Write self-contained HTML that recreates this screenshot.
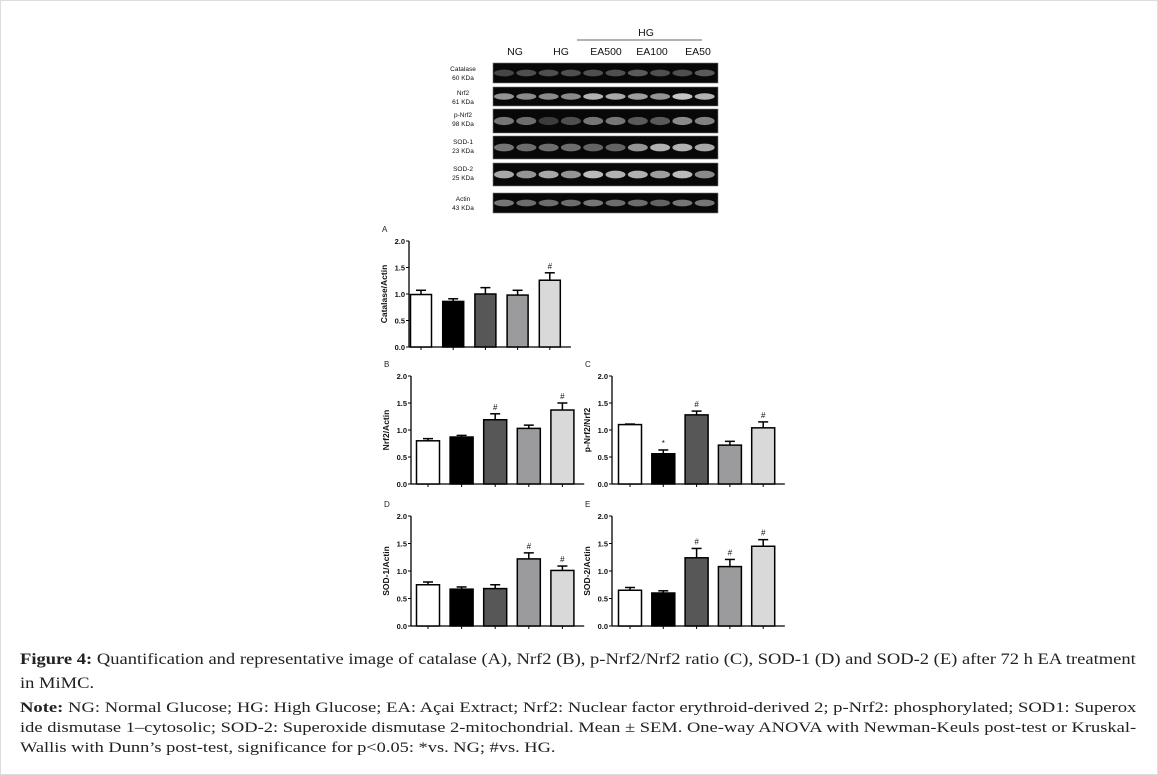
<!DOCTYPE html>
<html><head><meta charset="utf-8">
<style>
body{margin:0;background:#fff;}
#wrap{position:relative;width:1158px;height:775px;overflow:hidden;background:#fff;}
.cap{position:absolute;left:20px;font-family:"Liberation Serif",serif;font-size:15.5px;color:#222;white-space:nowrap;transform-origin:0 0;}
</style></head>
<body>
<div id="wrap">
<svg id="svg" width="1158" height="775" style="position:absolute;left:0;top:0">
<rect x="0.5" y="0.5" width="1157" height="774" fill="none" stroke="#ddd"/>
</svg>
<div class="cap" style="top:651px;transform:scaleX(1.195)"><b>Figure 4:</b> Quantification and representative image of catalase (A), Nrf2 (B), p-Nrf2/Nrf2 ratio (C), SOD-1 (D) and SOD-2 (E) after 72 h EA treatment</div>
<div class="cap" style="top:675px;transform:scaleX(1.195)">in MiMC.</div>
<div class="cap" style="top:700px;font-size:14.6px;transform:scaleX(1.274)"><b>Note:</b> NG: Normal Glucose; HG: High Glucose; EA: Açai Extract; Nrf2: Nuclear factor erythroid-derived 2; p-Nrf2: phosphorylated; SOD1: Superox</div>
<div class="cap" style="top:720px;font-size:14.6px;transform:scaleX(1.266)">ide dismutase 1–cytosolic; SOD-2: Superoxide dismutase 2-mitochondrial. Mean ± SEM. One-way ANOVA with Newman-Keuls post-test or Kruskal-</div>
<div class="cap" style="top:740px;font-size:14.6px;transform:scaleX(1.26)">Wallis with Dunn’s post-test, significance for p&lt;0.05: *vs. NG; #vs. HG.</div>
</div>
<script>
const categories=['NG','HG','EA500','EA100','EA50'];
const catalaseVals=[0.99,0.86,1.0,0.98,1.26];
const catalaseErr=[0.08,0.05,0.12,0.09,0.14];
const catalaseSig=['','','','','#'];
const nrf2Vals=[0.80,0.87,1.19,1.03,1.37];
const nrf2Err=[0.04,0.03,0.11,0.06,0.13];
const nrf2Sig=['','','#','','#'];
const pnrf2Vals=[1.10,0.56,1.28,0.72,1.04];
const pnrf2Err=[0.01,0.07,0.07,0.07,0.11];
const pnrf2Sig=['','*','#','','#'];
const sod1Vals=[0.75,0.67,0.68,1.22,1.01];
const sod1Err=[0.05,0.04,0.07,0.11,0.08];
const sod1Sig=['','','','#','#'];
const sod2Vals=[0.65,0.60,1.24,1.08,1.45];
const sod2Err=[0.05,0.04,0.17,0.13,0.12];
const sod2Sig=['','','#','#','#'];
const yTicks=[0,0.5,1.0,1.5,2.0];
const fills=['#ffffff','#000000','#575757','#9b9b9d','#d9d9d9'];
const blotRows=['Catalase|60 KDa','Nrf2|61 KDa','p-Nrf2|98 KDa','SOD-1|23 KDa','SOD-2|25 KDa','Actin|43 KDa'];

const NS='http://www.w3.org/2000/svg';
const svg=document.getElementById('svg');
function mk(tag,attrs,parent){const e=document.createElementNS(NS,tag);for(const k in attrs)e.setAttribute(k,attrs[k]);(parent||svg).appendChild(e);return e;}

const blot=mk('g',{});


const lanes=[['NG',515],['HG',561],['EA500',606],['EA100',652],['EA50',698]];
lanes.forEach(l=>{const t=mk('text',{x:l[1],y:55,'text-anchor':'middle','font-family':'Liberation Sans, sans-serif','font-size':'10.5',fill:'#111'},blot);t.textContent=l[0];

});
const hg=mk('text',{x:646,y:36,'text-anchor':'middle','font-family':'Liberation Sans, sans-serif','font-size':'10.5',fill:'#111'},blot);hg.textContent='HG';


mk('line',{x1:577,y1:40,x2:702,y2:40,stroke:'#333','stroke-width':'0.8'},blot);
const rowY=[[63,83],[87,106],[109,133],[136,159],[163,186],[193,213]];
const bandInt=[[0.35,0.4,0.4,0.4,0.4,0.4,0.45,0.4,0.4,0.45],[0.75,0.7,0.7,0.7,0.9,0.85,0.8,0.75,1,0.9],[0.6,0.55,0.3,0.4,0.6,0.6,0.45,0.45,0.7,0.65],[0.6,0.55,0.55,0.55,0.5,0.5,0.75,0.9,0.9,0.85],[0.85,0.75,0.85,0.75,0.95,0.9,0.9,0.8,0.95,0.7],[0.6,0.55,0.55,0.55,0.6,0.55,0.55,0.5,0.6,0.6]];
rowY.forEach((r,i)=>{
 mk('rect',{x:493,y:r[0],width:225,height:r[1]-r[0],fill:'#080808',stroke:'#777','stroke-width':'0.6'},blot);
 for(let j=0;j<10;j++){const cx=504+j*22.3;const v=Math.round(bandInt[i][j]*230);
  mk('ellipse',{cx:cx,cy:(r[0]+r[1])/2,rx:10,ry:(r[1]-r[0])*0.17,fill:`rgb(${v},${v},${v})`,opacity:0.85},blot);}
 const lab=blotRows[i].split('|');
 const t1=mk('text',{x:463,y:r[0]+8,'text-anchor':'middle','font-family':'Liberation Sans, sans-serif','font-size':'6.5',fill:'#111'},blot);t1.textContent=lab[0];
 
 
 const t2=mk('text',{x:463,y:r[0]+17,'text-anchor':'middle','font-family':'Liberation Sans, sans-serif','font-size':'6.5',fill:'#111'},blot);t2.textContent=lab[1];
 
 
});

function panel(name,letter,ylabel,vals,errs,sigs,ax,y0,y2,firstTick,step,bw){
 const g=mk('g',{});
 
 
 const ys=v=>y0-(v/2)*(y0-y2);
 const xs=i=>firstTick+i*step;
 const L=mk('text',{x:ax-27,y:y2-9,'font-family':'Liberation Sans, sans-serif','font-size':'8',fill:'#222'},g);L.textContent=letter;
 
 
 mk('line',{x1:ax,y1:y2,x2:ax,y2:y0,stroke:'#000','stroke-width':'1.3'},g);
 const xEnd=xs(4)+step/2+5;
 mk('line',{x1:ax,y1:y0,x2:xEnd,y2:y0,stroke:'#000','stroke-width':'1.3'},g);
 yTicks.forEach(t=>{mk('line',{x1:ax-3,y1:ys(t),x2:ax,y2:ys(t),stroke:'#000','stroke-width':'1'},g);
  const tt=mk('text',{x:ax-4,y:ys(t)+3,'text-anchor':'end','font-family':'Liberation Sans, sans-serif','font-size':'7.5','font-weight':'bold',fill:'#111'},g);tt.textContent=t.toFixed(1);
  
  });
 const yl=mk('text',{x:0,y:0,transform:`translate(${ax-22},${(y0+y2)/2}) rotate(-90)`,'text-anchor':'middle','font-family':'Liberation Sans, sans-serif','font-size':'8.5','font-weight':'bold',fill:'#111'},g);yl.textContent=ylabel;
 
 
 vals.forEach((v,i)=>{
  const cx=xs(i);
  mk('line',{x1:cx,y1:y0,x2:cx,y2:y0+3,stroke:'#000'},g);
  const top=ys(v+errs[i]);
  mk('line',{x1:cx,y1:ys(v),x2:cx,y2:top,stroke:'#000','stroke-width':'1.5'},g);
  mk('line',{x1:cx-5,y1:top,x2:cx+5,y2:top,stroke:'#000','stroke-width':'1.5'},g);
  const b=mk('rect',{x:cx-bw/2,y:ys(v),width:bw,height:y0-ys(v),fill:fills[i],stroke:'#000','stroke-width':'1.5'},g);
  
  
  if(sigs[i]){const s=mk('text',{x:cx,y:top-4,'text-anchor':'middle','font-family':'Liberation Sans, sans-serif','font-size':'8',fill:'#111'},g);s.textContent=sigs[i];
   
   }
 });
}
panel('chart-catalase','A','Catalase/Actin',catalaseVals,catalaseErr,catalaseSig,409,347,241,421,32.2,21);
panel('chart-nrf2','B','Nrf2/Actin',nrf2Vals,nrf2Err,nrf2Sig,411,484,376,428,33.6,23);
panel('chart-pnrf2','C','p-Nrf2/Nrf2',pnrf2Vals,pnrf2Err,pnrf2Sig,612,484,376,630,33.3,23);
panel('chart-sod1','D','SOD-1/Actin',sod1Vals,sod1Err,sod1Sig,411,626,516,428,33.6,23);
panel('chart-sod2','E','SOD-2/Actin',sod2Vals,sod2Err,sod2Sig,612,626,516,630,33.3,23);
</script>
</body></html>
